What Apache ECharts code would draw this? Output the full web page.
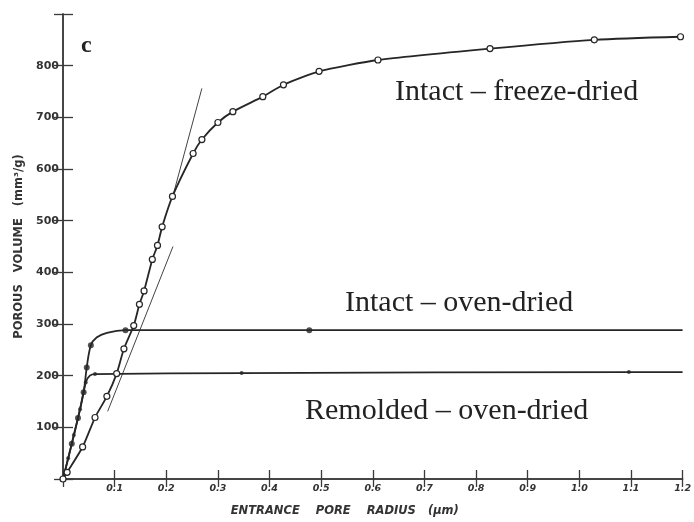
<!DOCTYPE html>
<html><head><meta charset="utf-8">
<script src="https://cdn.jsdelivr.net/npm/echarts@6/dist/echarts.min.js"></script>
<style>html,body{margin:0;padding:0;background:#fff}#c{width:694px;height:522px}</style>
</head><body><div id="c"></div>
<script>
// Intact – freeze-dried (open circles)
const freezeDried = [[0,0],[0.008,13],[0.038,62],[0.062,119],[0.085,160],[0.104,204],[0.118,252],[0.137,297],[0.148,338],[0.157,364],[0.173,425],[0.183,452],[0.192,488],[0.212,547],[0.252,630],[0.269,657],[0.300,690],[0.329,711],[0.387,740],[0.427,763],[0.496,789],[0.610,811],[0.827,833],[1.029,850],[1.196,856]];
// Intact – oven-dried (filled circles) marked points and curve path
const intactOvenMarks = [[0,0],[0.017,68],[0.029,118],[0.040,168],[0.046,216],[0.054,259],[0.121,288],[0.477,288]];
const intactOvenPath = [[0,0],[0.017,68],[0.029,118],[0.040,168],[0.046,216],[0.054,259],[0.065,274],[0.085,283],[0.121,288],[0.477,288],[1.2,288]];
// Remolded – oven-dried (small dots) marked points and path
const remoldedMarks = [[0.010,40],[0.021,85],[0.033,135],[0.044,187],[0.062,203],[0.346,205],[1.096,207]];
const remoldedPath = [[0,0],[0.010,40],[0.021,85],[0.033,135],[0.044,187],[0.052,200],[0.062,203],[0.346,205],[1.096,207],[1.2,207]];
// tangent lines
const tangentUpper = [[0.212,545],[0.269,756]];
const tangentLower = [[0.0865,131],[0.213,450]];
// axes
const xTicks = {min:0, max:1.2, interval:0.1};
const yTicks = {min:0, max:900, interval:100};
const labels = [
  {text:'c', x:81, y:46, size:24, weight:'bold'},
  {text:'Intact – freeze-dried', x:395, y:92, size:30, weight:'normal'},
  {text:'Intact – oven-dried', x:345, y:303, size:30, weight:'normal'},
  {text:'Remolded – oven-dried', x:305, y:411, size:30, weight:'normal'}
];
const axisColor = '#3a3a3a';
const lineColor = '#262626';

const chart = echarts.init(document.getElementById('c'), null, {renderer:'canvas'});
const lblFont = {fontFamily:'DejaVu Sans', fontWeight:'bold', color:'#333'};
chart.setOption({
  animation:false,
  backgroundColor:'#fff',
  grid:{left:63, right:6, top:14, bottom:42},
  xAxis:[{
    type:'value', min:xTicks.min, max:xTicks.max, interval:xTicks.interval,
    axisLine:{lineStyle:{color:axisColor, width:1.5}},
    axisTick:{inside:true, length:9, lineStyle:{color:axisColor, width:1.3}},
    splitLine:{show:false},
    axisLabel:Object.assign({fontSize:9.5, margin:5, fontStyle:'italic', formatter:v=> v===0?'':v.toFixed(1)}, lblFont),
    name:'ENTRANCE    PORE    RADIUS   (μm)', nameLocation:'middle', nameGap:26,
    nameTextStyle:{fontFamily:'DejaVu Sans', fontWeight:'bold', fontStyle:'italic', fontSize:11.5, color:'#333', padding:[0,56,0,0]}
  },{
    type:'value', position:'top', min:xTicks.min, max:xTicks.max, interval:xTicks.interval,
    axisLine:{show:true, lineStyle:{color:axisColor, width:1.5}},
    axisTick:{inside:true, length:8, lineStyle:{color:axisColor, width:1.3}},
    axisLabel:{show:false}, splitLine:{show:false}
  }],
  yAxis:[{
    type:'value', min:yTicks.min, max:yTicks.max, interval:yTicks.interval,
    axisLine:{show:true, lineStyle:{color:axisColor, width:1.5}},
    axisTick:{show:true, inside:true, length:10, lineStyle:{color:axisColor, width:1.3}},
    splitLine:{show:false},
    axisLabel:Object.assign({fontSize:11, margin:4, formatter:v=> (v===0||v===900)?'':String(v)}, lblFont),
    name:'POROUS   VOLUME   (mm³/g)', nameLocation:'middle', nameGap:38,
    nameTextStyle:{fontFamily:'DejaVu Sans', fontWeight:'bold', fontSize:11.5, color:'#333'}
  },{
    type:'value', position:'right', min:yTicks.min, max:yTicks.max, interval:yTicks.interval,
    axisLine:{show:true, lineStyle:{color:axisColor, width:1.5}},
    axisTick:{show:true, inside:true, length:9, lineStyle:{color:axisColor, width:1.3}},
    axisLabel:{show:false}, splitLine:{show:false}
  }],
  graphic: labels.map(l=>({
    type:'text', x:l.x, y:l.y,
    style:{text:l.text, fontFamily:'Liberation Serif', fontSize:l.size, fontWeight:l.weight, fill:'#222', textVerticalAlign:'middle'}
  })),
  series:[
    {type:'line', data:tangentUpper, symbol:'none', lineStyle:{color:'#444', width:1}},
    {type:'line', data:tangentLower, symbol:'none', lineStyle:{color:'#444', width:1}},
    {type:'line', data:remoldedPath, symbol:'none', smooth:0.25, lineStyle:{color:lineColor, width:1.8}},
    {type:'scatter', data:remoldedMarks, symbol:'circle', symbolSize:4, itemStyle:{color:lineColor}},
    {type:'line', data:intactOvenPath, symbol:'none', smooth:0.35, lineStyle:{color:lineColor, width:1.8}},
    {type:'scatter', data:intactOvenMarks, symbol:'circle', symbolSize:6, itemStyle:{color:lineColor}},
    {type:'line', data:freezeDried, smooth:0.2, symbol:'circle', symbolSize:6, showAllSymbol:true,
      lineStyle:{color:lineColor, width:1.8}, itemStyle:{color:'#fff', borderColor:lineColor, borderWidth:1.2}}
  ]
});
</script></body></html>
